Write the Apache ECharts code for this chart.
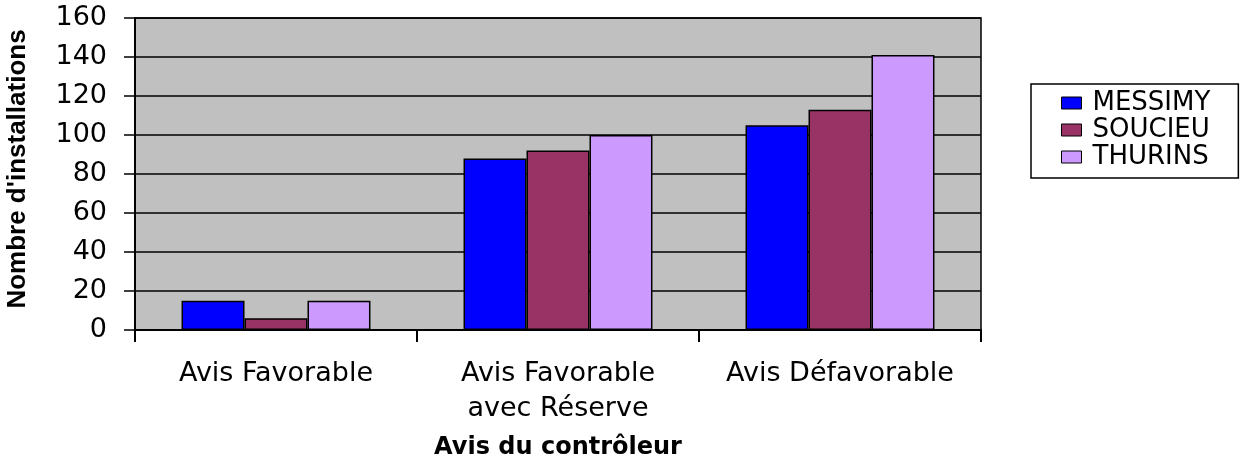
<!DOCTYPE html>
<html>
<head>
<meta charset="utf-8">
<script src="https://cdn.jsdelivr.net/npm/echarts@6/dist/echarts.min.js"></script>
<style>html,body{margin:0;padding:0;background:#fff}#c{width:1258px;height:462px}</style>
</head>
<body>
<div id="c"></div>
<script>
const categories = ['Avis Favorable', 'Avis Favorable\navec Réserve', 'Avis Défavorable'];
const messimy = [15, 88, 105];
const soucieu = [6, 92, 113];
const thurins = [15, 100, 141];
const seriesNames = ['MESSIMY', 'SOUCIEU', 'THURINS'];
const seriesColors = ['#0000FF', '#993366', '#CC99FF'];
const yTicks = {min: 0, max: 160, interval: 20};

const chart = echarts.init(document.getElementById('c'));
const barStyle = (i) => ({color: seriesColors[i], borderColor: '#000', borderWidth: 1.5});
chart.setOption({
  animation: false,
  backgroundColor: '#fff',
  grid: {left: 135, right: 277, top: 18, bottom: 132, show: true, backgroundColor: '#C0C0C0', borderColor: '#000', borderWidth: 1.5, containLabel: false, outerBoundsMode: 'none'},
  legend: {
    orient: 'vertical', left: 1031, top: 84,
    data: seriesNames,
    itemWidth: 20, itemHeight: 12, itemGap: 1,
    padding: [6, 28, 8, 30],
    borderColor: '#000', borderWidth: 1.5,
    icon: 'rect',
    itemStyle: {borderColor: '#000', borderWidth: 1},
    textStyle: {fontFamily: 'DejaVu Sans', fontSize: 26, color: '#000', lineHeight: 26, padding: [0,0,0,6]}
  },
  xAxis: {
    type: 'category', data: categories,
    name: 'Avis du contrôleur', nameLocation: 'middle', nameGap: 106,
    nameTextStyle: {fontFamily: 'DejaVu Sans', fontWeight: 'bold', fontSize: 24, color: '#000'},
    axisLine: {lineStyle: {color: '#000', width: 2}},
    axisTick: {show: true, length: 12, lineStyle: {color: '#000', width: 2}},
    axisLabel: {fontFamily: 'DejaVu Sans', fontSize: 27, color: '#000', lineHeight: 35, margin: 26, interval: 0}
  },
  yAxis: {
    type: 'value', min: yTicks.min, max: yTicks.max, interval: yTicks.interval,
    name: "Nombre d'installations", nameLocation: 'middle', nameGap: 104,
    nameTextStyle: {fontFamily: 'Liberation Sans', fontWeight: 'bold', fontSize: 26, color: '#000', padding: [0, 0, 0, 10]},
    axisLine: {show: true, lineStyle: {color: '#000', width: 2}},
    axisTick: {show: true, length: 11, lineStyle: {color: '#000', width: 1.5}},
    splitLine: {lineStyle: {color: '#000', width: 1.5}},
    axisLabel: {fontFamily: 'DejaVu Sans', fontSize: 27, color: '#000', margin: 28}
  },
  series: [
    {name: seriesNames[0], type: 'bar', data: messimy, itemStyle: barStyle(0), barGap: '0%', barCategoryGap: '33%'},
    {name: seriesNames[1], type: 'bar', data: soucieu, itemStyle: barStyle(1), barGap: '0%', barCategoryGap: '33%'},
    {name: seriesNames[2], type: 'bar', data: thurins, itemStyle: barStyle(2), barGap: '0%', barCategoryGap: '33%'}
  ]
});
</script>
</body>
</html>
